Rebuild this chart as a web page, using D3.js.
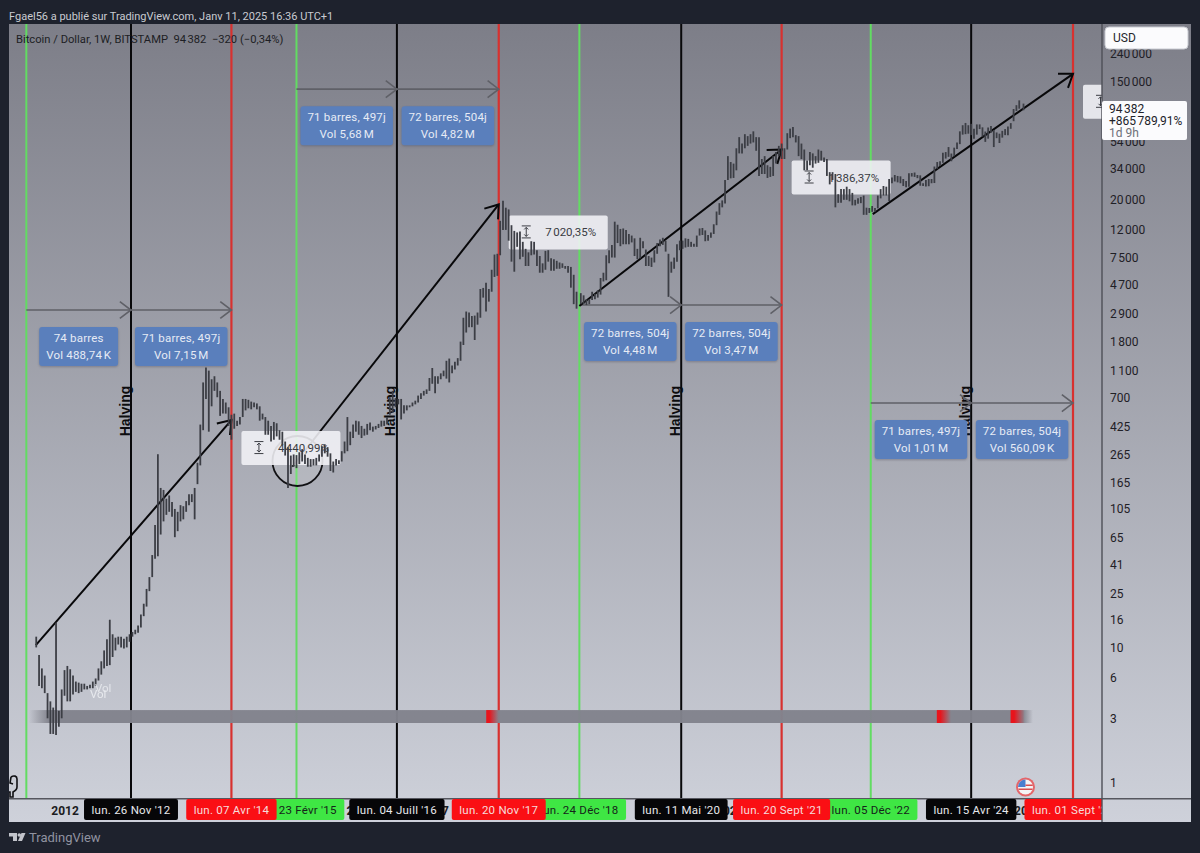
<!DOCTYPE html>
<html>
<head>
<meta charset="utf-8">
<script src="https://cdn.jsdelivr.net/npm/d3@7"></script>
<style>
html, body { margin: 0; padding: 0; background: #1e222d; }
svg { display: block; }
text { font-family: Roboto, "Noto Sans", sans-serif; }
</style>
</head>
<body>
<div id="chart"></div>
<script>
// weekly bars, one [low, high] every two weeks, by year
var bars2011 = [[10,12],[5.2,8.8],[5,7],[4.6,6.2],[3,4.6],[2.3,4],[2.3,3.6],[2.26,15.2],[2.6,3.4],[3,4.9]];
var bars2012 = [[4.4,6.8],[4,7.3],[4,6.9],[4.5,6.2],[4.7,5.6],[4.6,5.5],[4.7,5.4],[4.9,5.4],[4.9,5.2],[5,5.3],[5,5.6],[5.2,5.9],[5.7,7],[6.3,7.9],[7,9.5],[7.3,11.5],[7.4,16],[8.5,12.5],[9.5,11.8],[10.5,12],[10,12],[9.8,11.6],[10,12],[11,12.5],[12,13],[12.5,13.5]];
var bars2013 = [[12.8,14.5],[14,17.5],[17,21],[20,27],[26,33],[33,48],[45,80],[47,266],[68,150],[85,145],[95,125],[100,132],[92,118],[65,105],[72,100],[85,112],[88,110],[100,120],[112,135],[118,135],[88,150],[160,230],[220,440],[400,900],[680,1160],[390,1100]];
var bars2014 = [[600,950],[780,1000],[700,900],[510,780],[530,680],[530,640],[430,590],[340,520],[410,530],[430,470],[440,500],[500,680],[560,680],[580,670],[570,650],[590,640],[570,630],[470,600],[480,530],[370,500],[370,470],[330,430],[340,460],[360,450],[340,400],[310,390]];
var bars2015 = [[260,330],[150,300],[190,260],[215,265],[210,262],[225,275],[235,290],[225,265],[215,250],[215,245],[220,245],[220,250],[235,265],[255,305],[270,315],[255,300],[200,270],[195,235],[220,245],[225,240],[235,280],[270,330],[280,500],[310,390],[350,440],[390,470]];
var bars2016 = [[370,465],[350,430],[365,410],[370,445],[400,455],[390,425],[405,430],[415,445],[425,470],[430,470],[440,500],[520,700],[540,780],[590,690],[620,680],[480,680],[530,610],[560,610],[590,610],[600,640],[620,660],[640,720],[680,750],[720,780],[740,800],[780,970]];
var bars2017 = [[880,1150],[750,1000],[880,1000],[950,1050],[1000,1100],[960,1300],[900,1350],[1050,1200],[1120,1280],[1200,1360],[1300,1800],[1700,2700],[2100,3000],[2300,2950],[2300,2780],[1850,2800],[2400,2950],[2700,4400],[3800,4480],[3000,4900],[3550,4400],[4200,6100],[5400,7900],[5500,8000],[7800,14000],[12000,19700]];
var bars2018 = [[12000,17500],[10000,17000],[7000,13000],[5900,11800],[9000,11500],[7300,11700],[7600,9800],[6500,8700],[6500,8200],[7800,9900],[7900,9800],[6500,8500],[5800,7700],[5800,6800],[6100,8400],[7000,8500],[6000,7400],[6000,7300],[6200,7100],[6200,6900],[6300,6800],[6200,6500],[5800,6500],[4500,6400],[3400,5600],[3150,4200]];
var bars2019 = [[3400,4100],[3400,3950],[3350,3700],[3400,3700],[3650,4200],[3700,4050],[3800,4300],[4000,5300],[5000,5800],[5100,7800],[6800,8500],[7500,9300],[7500,13800],[9600,13100],[9100,12200],[9400,12300],[9400,12000],[9400,11200],[9700,10900],[7700,10400],[7300,8700],[7400,10500],[8800,9900],[6500,8600],[6500,7700],[6400,7500]];
var bars2020 = [[6900,8500],[8000,9600],[9100,10200],[9300,10500],[8300,10000],[3850,8000],[5800,7000],[6200,7500],[7000,9400],[8500,10000],[8700,10000],[8900,10400],[9000,10300],[9000,9800],[9000,9500],[9000,10900],[10900,12300],[11000,12400],[9900,11900],[10000,11000],[10500,11500],[11200,13200],[13000,16400],[15500,18900],[17600,19800],[18800,28000]];
var bars2021 = [[28000,42000],[28800,38000],[29000,37000],[33000,48000],[44000,58000],[44000,52000],[48000,61000],[50000,59000],[52000,61000],[53000,64000],[46000,58000],[30000,58000],[31000,40000],[31000,42000],[29000,36000],[29500,35000],[30000,42000],[37000,45000],[42000,50000],[40000,52000],[40000,48000],[47000,62000],[57000,67000],[58000,69000],[53000,60000],[42000,59000]];
var bars2022 = [[40000,52000],[33000,47000],[33000,39000],[36000,45000],[34500,44000],[37000,42000],[37500,47000],[39000,46000],[38000,41000],[30000,40000],[26000,32000],[28000,32000],[17600,31000],[19000,22000],[19000,24000],[20000,24000],[20000,25000],[19500,24000],[18200,22500],[18200,20000],[18700,20500],[18900,21000],[15500,21500],[15500,17500],[16000,17400],[16300,18000]];
var bars2023 = [[16300,17400],[17300,21500],[20500,24000],[21500,25300],[21500,25000],[19600,28500],[26500,29200],[27300,30500],[26900,30000],[26500,29800],[25300,28500],[24800,27500],[25000,31400],[29700,31500],[29500,31800],[28900,30500],[25400,30300],[25300,26500],[25100,28000],[25200,28500],[26500,28500],[26600,35200],[33900,38000],[35500,38500],[37500,44500],[40300,45000]];
var bars2024 = [[41500,49000],[38500,43900],[41900,48500],[47500,53000],[51500,64000],[60500,71000],[61000,73800],[61500,71000],[60000,72700],[56500,67000],[60500,72000],[66500,72000],[58500,68500],[53500,63800],[56500,68300],[62500,70000],[49000,65500],[57000,62800],[52500,61500],[57500,64500],[60000,66500],[60000,69500],[66800,73600],[76000,93500],[90500,99800],[94000,108300]];
var bars2025 = [[91500,102500]];

var barYearStarts = ["2011-08-15","2012-01-02","2012-12-31","2013-12-30","2014-12-29","2015-12-28","2016-12-26","2017-12-25","2018-12-31","2019-12-30","2020-12-28","2021-12-27","2022-12-26","2023-12-25","2024-12-30"];
var barYears = [bars2011,bars2012,bars2013,bars2014,bars2015,bars2016,bars2017,bars2018,bars2019,bars2020,bars2021,bars2022,bars2023,bars2024,bars2025];

// cycle lines and their date labels on the time axis
var greenDates = ["2011-06-27","2015-02-23","2018-12-24","2022-12-05"];
var blackDates = ["2012-11-26","2016-07-04","2020-05-11","2024-04-15"];
var redDates = ["2014-04-07","2017-11-20","2021-09-20","2025-09-01"];
var greenLabels = [null,"lun. 23 Févr '15","lun. 24 Déc '18","lun. 05 Déc '22"];
var greenVisible = [null,"23 Févr '15","un. 24 Déc '18","lun. 05 Déc '22"];
var blackLabels = ["lun. 26 Nov '12","lun. 04 Juill '16","lun. 11 Mai '20","lun. 15 Avr '24"];
var redLabels = ["lun. 07 Avr '14","lun. 20 Nov '17","lun. 20 Sept '21","lun. 01 Sept '25"];

// only the parts of the year labels that stick out between the date tags
var yearTickDates = ["2012-01-02","2015-11-12","2017-02-27","2021-01-04","2024-12-15"];
var yearTickTexts = ["2012","2","7","02","20"];
var priceTicks = [240000,150000,54000,34000,20000,12000,7500,4700,2900,1800,1100,700,425,265,165,105,65,41,25,16,10,6,3,1];

// date ranges: start, end, price level, two lines of text
var rangeStarts = ["2011-06-27","2012-11-26","2015-02-23","2016-07-04","2018-12-24","2020-05-11","2022-12-05","2024-04-15"];
var rangeEnds = ["2012-11-26","2014-04-07","2016-07-04","2017-11-20","2020-05-11","2021-09-20","2024-04-15","2025-09-01"];
var rangePrices = [3080,3080,131000,131000,3350,3350,634,634];
var rangeBars = ["74 barres","71 barres, 497j","71 barres, 497j","72 barres, 504j","72 barres, 504j","72 barres, 504j","71 barres, 497j","72 barres, 504j"];
var rangeVols = ["Vol 488,74\u202fK","Vol 7,15\u202fM","Vol 5,68\u202fM","Vol 4,82\u202fM","Vol 4,48\u202fM","Vol 3,47\u202fM","Vol 1,01\u202fM","Vol 560,09\u202fK"];

// trend arrows with their percent boxes
var trendStartDates = ["2011-08-13","2015-02-02","2018-12-24","2022-12-15"];
var trendEndDates = ["2014-04-07","2017-11-20","2021-09-20","2025-09-01"];
var trendStartPrices = [10.4,215,3300,15700];
var trendEndPrices = [475,18500,47000,170000];
var trendLabels = ["4\u202f440,99%","7\u202f020,35%","1\u202f386,37%",""];

var bandStart = "2011-07-09", bandEnd = "2025-01-11";
var bandMarkStarts = ["2017-09-19","2023-10-28","2024-10-27"];
var bandMarkEnds = ["2017-11-20","2024-01-06","2025-01-05"];

var width = 1200, height = 853;
var parse = d3.timeParse("%Y-%m-%d");

var svg = d3.select("#chart").append("svg")
  .attr("width", width)
  .attr("height", height);

var defs = svg.append("defs");
var grad = defs.append("linearGradient").attr("id","panelGrad").attr("x1",0).attr("y1",0).attr("x2",0).attr("y2",1);
grad.append("stop").attr("offset","0%").attr("stop-color","#7d7e88");
grad.append("stop").attr("offset","100%").attr("stop-color","#ced1da");

var bandGrad = defs.append("linearGradient").attr("id","bandGrad");
bandGrad.append("stop").attr("offset","0%").attr("stop-color","#82838d").attr("stop-opacity",0);
bandGrad.append("stop").attr("offset","2%").attr("stop-color","#82838d").attr("stop-opacity",0.97);
bandGrad.append("stop").attr("offset","99%").attr("stop-color","#82838d").attr("stop-opacity",0.97);
bandGrad.append("stop").attr("offset","100%").attr("stop-color","#82838d").attr("stop-opacity",0);

var redGrad = defs.append("linearGradient").attr("id","redGrad");
redGrad.append("stop").attr("offset","0%").attr("stop-color","#e8141c");
redGrad.append("stop").attr("offset","25%").attr("stop-color","#e8141c");
redGrad.append("stop").attr("offset","100%").attr("stop-color","#e8141c").attr("stop-opacity",0);

defs.append("clipPath").attr("id","plotClip").append("rect")
  .attr("x",9).attr("y",24).attr("width",1093).attr("height",798);

// page background and panel
svg.append("rect").attr("width",width).attr("height",height).attr("fill","#1e222d");
svg.append("rect").attr("x",9).attr("y",24).attr("width",1182).attr("height",798).attr("fill","url(#panelGrad)");

var x = d3.scaleTime().domain([parse("2012-11-26"), parse("2025-09-01")]).range([131,1073]);
var y = d3.scaleLog().domain([1,240000]).range([783,53.5]);

var plot = svg.append("g").attr("clip-path","url(#plotClip)");

// vertical cycle lines
function cycleLines(dates, color, w){
  plot.append("g").selectAll("line")
    .data(dates)
    .enter().append("line")
    .attr("x1", function(d){ return x(parse(d)); })
    .attr("x2", function(d){ return x(parse(d)); })
    .attr("y1",24).attr("y2",799)
    .attr("stroke",color).attr("stroke-width",w);
}
cycleLines(greenDates,"#62dc62",2);
cycleLines(blackDates,"#08080a",2);
cycleLines(redDates,"#d8312f",2.2);

// Halving text next to the black lines
plot.append("g").selectAll("text")
  .data(blackDates)
  .enter().append("text")
  .attr("transform", function(d){ return "translate(" + (x(parse(d)) - 1.5) + ",411) rotate(-90)"; })
  .attr("text-anchor","middle")
  .style("font-family","'Liberation Sans', sans-serif")
  .style("font-weight","700")
  .style("font-size","14px")
  .attr("fill","#0c0c0e")
  .text("Halving");

// open arrow head
function arrowHead(g, x0, y0, x1, y1, len, spread, color, w){
  var a = Math.atan2(y1 - y0, x1 - x0);
  var p = [[x1 - len*Math.cos(a - spread), y1 - len*Math.sin(a - spread)], [x1,y1], [x1 - len*Math.cos(a + spread), y1 - len*Math.sin(a + spread)]];
  g.append("path").attr("d", d3.line()(p)).attr("fill","none").attr("stroke",color).attr("stroke-width",w);
}

// date range arrows
var ranges = plot.append("g");
rangeStarts.forEach(function(s, i){
  var x0 = x(parse(s)), x1 = x(parse(rangeEnds[i])), ly = y(rangePrices[i]);
  ranges.append("line").attr("x1",x0).attr("x2",x1).attr("y1",ly).attr("y2",ly)
    .attr("stroke","#5f6067").attr("stroke-width",1.6);
  arrowHead(ranges,x0,ly,x1,ly,14,0.65,"#5f6067",1.6);
});

// bottom band
var band = plot.append("g");
band.append("rect")
  .attr("x",x(parse(bandStart)))
  .attr("width",x(parse(bandEnd)) - x(parse(bandStart)) + 7)
  .attr("y",y(3.45)).attr("height",y(2.77) - y(3.45))
  .attr("fill","url(#bandGrad)");
band.selectAll(".mark")
  .data(bandMarkStarts)
  .enter().append("rect")
  .attr("class","mark")
  .attr("x",function(d){ return x(parse(d)); })
  .attr("width",function(d,i){ return x(parse(bandMarkEnds[i])) - x(parse(d)); })
  .attr("y",y(3.45)).attr("height",y(2.77) - y(3.45))
  .attr("fill","url(#redGrad)");

// trend arrows
var trends = plot.append("g");
trendStartDates.forEach(function(s, i){
  var x0 = x(parse(s)), y0 = y(trendStartPrices[i]), x1 = x(parse(trendEndDates[i])), y1 = y(trendEndPrices[i]);
  trends.append("line").attr("x1",x0).attr("y1",y0).attr("x2",x1).attr("y2",y1)
    .attr("stroke","#08080a").attr("stroke-width",2);
  arrowHead(trends,x0,y0,x1,y1,15,0.62,"#08080a",2);
});

// circle around the 2015 low
plot.append("circle")
  .attr("cx",x(parse("2015-02-23"))+1).attr("cy",y(237)).attr("r",25)
  .attr("fill","#ffffff").attr("fill-opacity",0.12)
  .attr("stroke","#111114").attr("stroke-width",1.8);

// percent boxes, placed from the arrow ends
var percent = plot.append("g");
trendEndDates.forEach(function(d, i){
  var bx = x(parse(d)) + 10, by = y(trendEndPrices[i]) + 11;
  var g = percent.append("g").attr("transform","translate(" + bx + "," + by + ")");
  g.append("rect").attr("width",99).attr("height",34).attr("rx",2)
    .attr("fill","#f2f3f7").attr("fill-opacity",0.88);
  g.append("path")
    .attr("d","M13 10.5h9M13 22.5h9M17.5 12v9M15.5 14l2-2 2 2M15.5 19l2 2 2-2")
    .attr("fill","none").attr("stroke","#3c3e45").attr("stroke-width",1);
  g.append("text").attr("x",62).attr("y",21).attr("text-anchor","middle")
    .style("font-size","11.5px").attr("fill","#3a3c43").text(trendLabels[i]);
});

// price bars
var bars = [];
barYears.forEach(function(list, i){
  var start = parse(barYearStarts[i]);
  list.forEach(function(b, j){
    bars.push({date: d3.timeDay.offset(start, j*14), low: b[0], high: b[1]});
  });
});
plot.append("g").selectAll("line")
  .data(bars)
  .enter().append("line")
  .attr("x1",function(d){ return x(d.date); })
  .attr("x2",function(d){ return x(d.date); })
  .attr("y1",function(d){ return y(d.low); })
  .attr("y2",function(d){ return y(d.high); })
  .attr("stroke","#3c3e45").attr("stroke-width",1.8);

// blue range labels
var labels = plot.append("g");
rangeStarts.forEach(function(s, i){
  var cx = (x(parse(s)) + x(parse(rangeEnds[i]))) / 2, top = y(rangePrices[i]) + 17;
  var g = labels.append("g");
  var r = g.append("rect").attr("y",top).attr("height",39).attr("rx",3)
    .attr("fill","#5a7fbc").style("filter","drop-shadow(0 1px 1px rgba(60,60,80,.35))");
  var t1 = g.append("text").attr("x",cx).attr("y",top + 15).attr("text-anchor","middle")
    .style("font-size","11.5px").style("letter-spacing","0.2px").attr("fill","#e6ebf5").text(rangeBars[i]);
  var t2 = g.append("text").attr("x",cx).attr("y",top + 32).attr("text-anchor","middle")
    .style("font-size","11.5px").style("letter-spacing","0.2px").attr("fill","#e6ebf5").text(rangeVols[i]);
  var w = Math.max(t1.node().getComputedTextLength(), t2.node().getComputedTextLength()) + 14;
  r.attr("x",cx - w/2).attr("width",w);
});

// Vol marks
plot.append("text").attr("x",95).attr("y",692).style("font-size","11.5px").attr("fill","#eceef2").attr("opacity",0.8).text("Vol");
plot.append("text").attr("x",90).attr("y",698).style("font-size","11.5px").attr("fill","#eceef2").attr("opacity",0.9).text("Vol");

// flag icon
var flag = plot.append("g").attr("transform","translate(1025.5,787)");
flag.append("circle").attr("r",9.5).attr("fill","#e4666a");
flag.append("circle").attr("r",7.5).attr("fill","#f4f4f6");
flag.append("path").attr("d","M-7.5 0a7.5 7.5 0 0 1 7.5-7.5v7.5z").attr("fill","#4a7fd0");
flag.append("path").attr("d","M0 -2.5h7.2v1.6h-7.2zM-7 1.5h14v1.6h-14z").attr("fill","#d94e50");

// small glyph bottom left
plot.append("path")
  .attr("d","M11 777c3-2 6-1 6 2v8c0 3-2 4-4 5v5h-3v-5h-1M11 777l-1 6 3 1")
  .attr("fill","none").attr("stroke","#111114").attr("stroke-width",1.6);

// time axis
svg.append("line").attr("x1",9).attr("x2",1191).attr("y1",798.8).attr("y2",798.8).attr("stroke","#55565e").attr("stroke-width",1.4);

var timeAxis = svg.append("g")
  .attr("transform","translate(0,799)")
  .call(d3.axisBottom(x).tickValues(yearTickDates.map(parse))
    .tickFormat(function(d,i){ return yearTickTexts[i]; }).tickSize(0).tickPadding(7));
timeAxis.select(".domain").remove();
timeAxis.selectAll("text")
  .style("font-family","Roboto, sans-serif")
  .style("font-size","12px")
  .style("font-weight","700")
  .attr("fill","#1b1c21");

// colored date labels
var dateTags = svg.append("g").attr("clip-path","url(#plotClip)");
function tags(dates, names, shown, fill, ink){
  dates.forEach(function(d, i){
    if (!names[i]) return;
    var cx = x(parse(d));
    var g = dateTags.append("g");
    var r = g.append("rect").attr("y",799).attr("height",21).attr("rx",2).attr("fill",fill);
    var t = g.append("text").attr("x",cx).attr("y",814).attr("text-anchor","middle")
      .style("font-size","11.5px").style("letter-spacing","0.25px").attr("fill",ink).text(names[i]);
    var w = t.node().getComputedTextLength() + 15;
    r.attr("x",cx - w/2).attr("width",w);
    if (shown && shown[i] != names[i]) {
      t.attr("text-anchor","end").attr("x",cx + w/2 - 7.5).text(shown[i]);
    }
  });
}
tags(greenDates,greenLabels,greenVisible,"#3fe644","#15241a");
tags(blackDates,blackLabels,null,"#060608","#e8e9ec");
tags(redDates,redLabels,null,"#fa0f14","#f6dcdc");

// price axis
svg.append("line").attr("x1",1102).attr("x2",1102).attr("y1",24).attr("y2",822).attr("stroke","#4e4f57").attr("stroke-width",1.4);

var priceFmt = d3.formatLocale({decimal:",", thousands:"\u202f", grouping:[3], currency:["","$"]}).format(",d");
var priceAxis = svg.append("g")
  .attr("transform","translate(1102,0)")
  .call(d3.axisRight(y).tickValues(priceTicks).tickFormat(priceFmt).tickSize(0).tickPadding(8));
priceAxis.select(".domain").remove();
priceAxis.selectAll("text")
  .style("font-family","Roboto, sans-serif")
  .style("font-size","12px")
  .attr("fill","#1f2026");

// USD button
svg.append("rect").attr("x",1105).attr("y",27).attr("width",83).attr("height",22).attr("rx",4)
  .attr("fill","#fbfbfd").attr("stroke","#c9cbd2");
svg.append("text").attr("x",1113).attr("y",42).style("font-size","12px").attr("fill","#26272d").text("USD");

// last price tag
svg.append("rect").attr("x",1102).attr("y",101).attr("width",85).attr("height",39).attr("rx",2).attr("fill","#fbfbfd");
svg.append("text").attr("x",1109).attr("y",113).style("font-size","12px").attr("fill","#22232a").text("94\u202f382");
svg.append("text").attr("x",1109).attr("y",125).style("font-size","12px").attr("fill","#22232a").text("+865\u202f789,91%");
svg.append("text").attr("x",1109).attr("y",137).style("font-size","12px").attr("fill","#6e7078").text("1d 9h");

// headers
svg.append("text").attr("x",9).attr("y",20).style("font-size","11px").attr("fill","#c9cbd1")
  .text("Fgael56 a publié sur TradingView.com, Janv 11, 2025 16:36 UTC+1");
svg.append("text").attr("x",16).attr("y",43).style("font-size","11.2px").style("white-space","pre").attr("fill","#1d1e24")
  .text("Bitcoin / Dollar, 1W, BITSTAMP  94\u202f382  \u2212320 (\u22120,34%)");

// footer
svg.append("path").attr("d","M9 833h8v8h-4v-4.5h-4zM25.5 833l-3.5 8h-4l3.5-8z").attr("fill","#c2c4cb");
svg.append("circle").attr("cx",19.3).attr("cy",835).attr("r",1.8).attr("fill","#c2c4cb");
svg.append("text").attr("x",29).attr("y",842).style("font-size","13px").attr("fill","#9093a0").text("TradingView");
</script>
</body>
</html>
